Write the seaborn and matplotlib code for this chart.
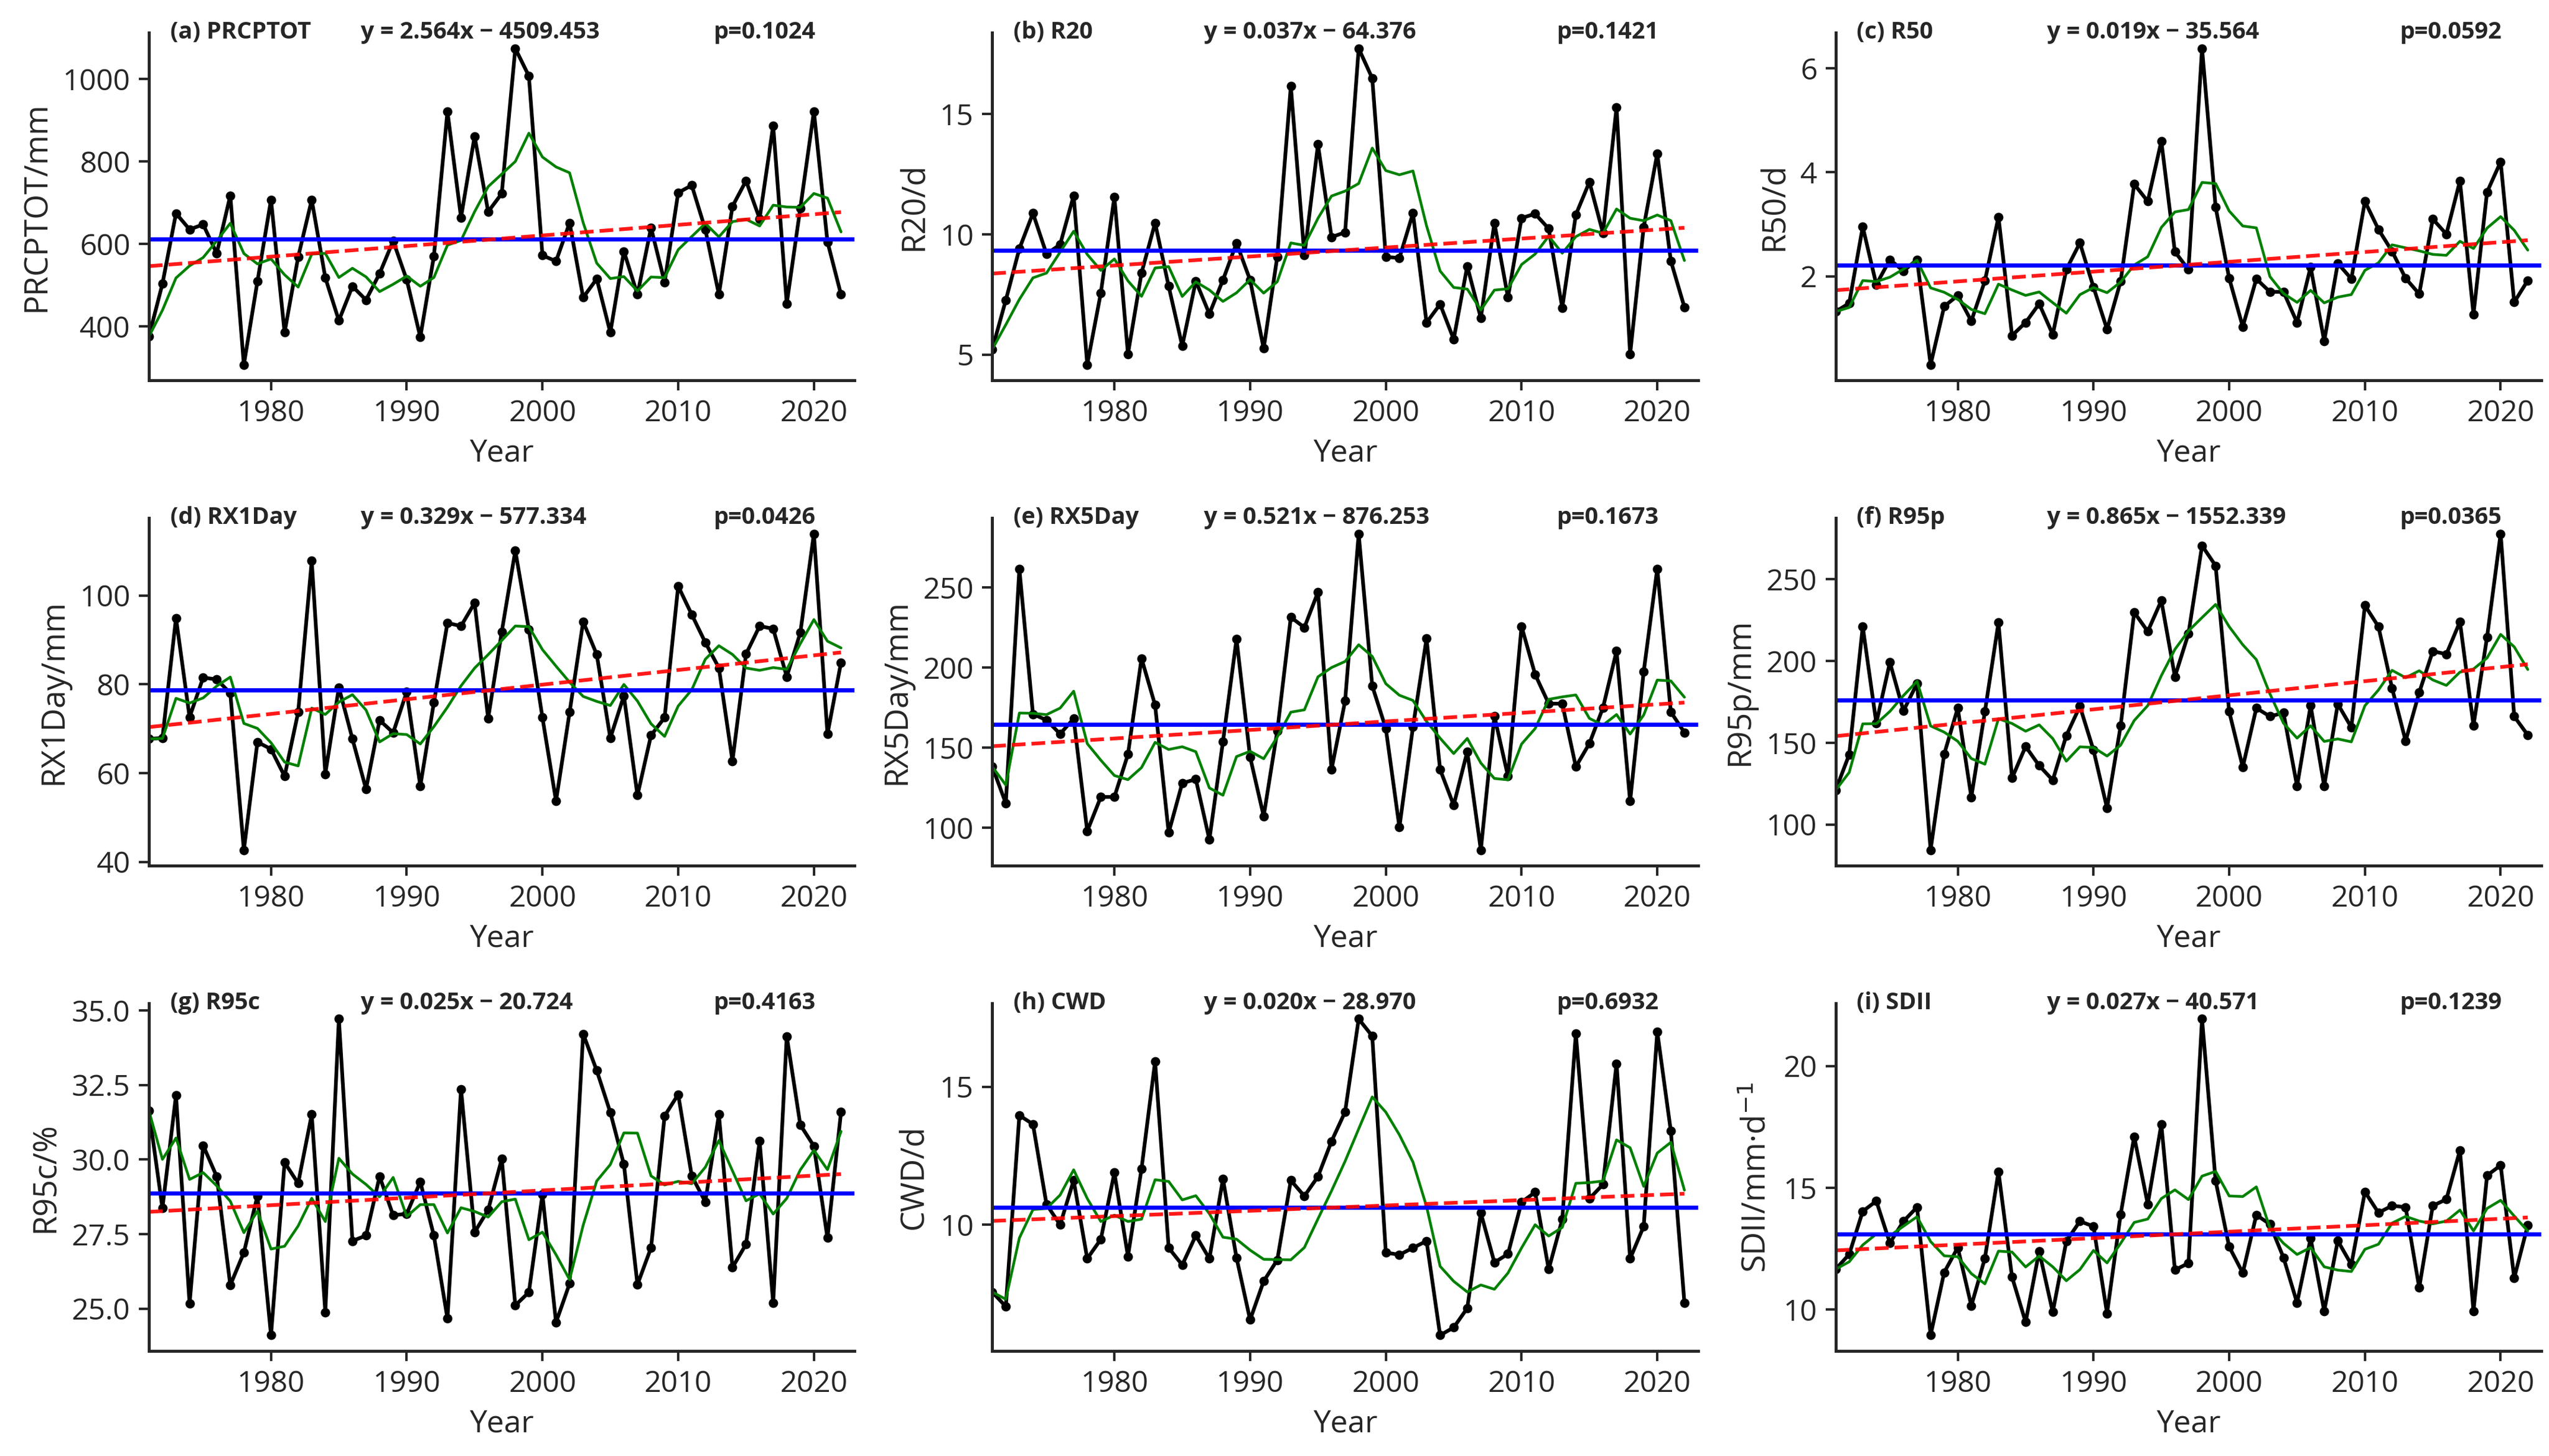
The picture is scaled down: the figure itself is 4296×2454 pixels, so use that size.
import numpy as np
import pandas as pd
import matplotlib
matplotlib.use("Agg")
import matplotlib.pyplot as plt
import seaborn as sns

years = list(range(1971, 2023))

prcptot = [375, 503, 674, 635, 647, 577, 717, 307, 509, 707,
           385, 568, 707, 518, 414, 497, 464, 528, 607, 513,
           374, 570, 921, 664, 861, 678, 722, 1074, 1007, 572,
           558, 651, 470, 515, 385, 582, 477, 639, 507, 724,
           742, 635, 477, 691, 753, 661, 887, 455, 687, 921,
           605, 477]
r20 = [5.22, 7.26, 9.40, 10.87, 9.18, 9.57, 11.60, 4.58, 7.56, 11.55,
       5.02, 8.39, 10.47, 7.84, 5.36, 8.05, 6.69, 8.10, 9.63, 8.10,
       5.25, 9.06, 16.15, 9.12, 13.73, 9.88, 10.08, 17.72, 16.48, 9.06,
       9.01, 10.87, 6.33, 7.09, 5.64, 8.67, 6.52, 10.47, 7.37, 10.67,
       10.85, 10.23, 6.94, 10.81, 12.17, 10.05, 15.27, 5.02, 10.30, 13.35,
       8.89, 6.97]
r50 = [1.32, 1.48, 2.95, 1.84, 2.32, 2.10, 2.32, 0.30, 1.42, 1.63,
       1.14, 1.91, 3.14, 0.86, 1.11, 1.47, 0.88, 2.13, 2.64, 1.79,
       0.98, 1.90, 3.77, 3.44, 4.60, 2.47, 2.13, 6.38, 3.33, 1.96,
       1.03, 1.95, 1.70, 1.70, 1.11, 2.18, 0.75, 2.25, 1.95, 3.44,
       2.90, 2.48, 1.96, 1.66, 3.10, 2.81, 3.83, 1.27, 3.62, 4.20,
       1.50, 1.92]
rx1day = [67.7, 67.9, 94.9, 72.6, 81.5, 81.1, 78.0, 42.7, 67.0, 65.4,
          59.3, 73.7, 107.8, 59.8, 79.3, 67.7, 56.4, 71.9, 69.1, 78.3,
          57.1, 75.9, 93.8, 93.1, 98.3, 72.3, 91.8, 110.1, 92.3, 72.5,
          53.7, 73.7, 94.1, 86.7, 67.9, 77.4, 55.0, 68.5, 72.5, 102.1,
          95.7, 89.4, 83.7, 62.7, 86.8, 93.1, 92.5, 81.7, 91.6, 113.9,
          68.8, 84.9]
rx5day = [138.0, 115.2, 261.4, 170.9, 167.1, 158.5, 168.0, 97.7, 119.1, 119.1,
          145.7, 205.7, 176.5, 96.8, 127.7, 130.2, 92.5, 153.7, 217.7, 144.0,
          107.1, 160.2, 231.4, 225.0, 247.1, 136.2, 179.1, 283.6, 188.5, 161.9,
          100.2, 162.8, 218.0, 136.2, 114.0, 147.4, 86.0, 169.7, 132.0, 225.7,
          195.7, 177.4, 177.4, 138.0, 152.5, 174.8, 210.3, 116.5, 197.4, 261.7,
          172.2, 159.4]
r95p = [120.9, 142.7, 221.0, 162.0, 199.2, 169.5, 186.3, 84.4, 143.0, 171.2,
        116.7, 169.0, 223.5, 128.4, 147.7, 136.0, 127.1, 154.4, 172.3, 145.5,
        110.0, 160.3, 229.8, 218.1, 237.0, 190.4, 216.8, 270.6, 258.3, 169.0,
        135.1, 171.2, 166.1, 168.3, 123.4, 172.8, 123.4, 173.7, 159.4, 234.0,
        221.0, 183.4, 151.1, 180.7, 206.0, 204.2, 224.0, 160.6, 214.7, 277.9,
        166.1, 154.7]
r95c = [31.64, 28.37, 32.15, 25.17, 30.47, 29.43, 25.79, 26.88, 28.78, 24.11,
        29.90, 29.20, 31.51, 24.88, 34.71, 27.27, 27.45, 29.43, 28.13, 28.18,
        29.25, 27.45, 24.67, 32.36, 27.56, 28.31, 30.02, 25.11, 25.55, 28.83,
        24.54, 25.84, 34.21, 32.98, 31.58, 29.84, 25.81, 27.04, 31.46, 32.18,
        29.45, 28.58, 31.51, 26.38, 27.16, 30.62, 25.19, 34.13, 31.16, 30.45,
        27.37, 31.59]
cwd = [7.55, 7.02, 13.96, 13.64, 10.73, 9.99, 11.60, 8.76, 9.46, 11.88,
       8.84, 12.02, 15.92, 9.15, 8.53, 9.60, 8.76, 11.65, 8.79, 6.54,
       7.94, 8.71, 11.60, 11.03, 11.74, 13.02, 14.09, 17.46, 16.84, 8.98,
       8.90, 9.15, 9.40, 5.98, 6.26, 6.96, 10.42, 8.62, 8.93, 10.81,
       11.17, 8.37, 10.19, 16.93, 10.94, 11.45, 15.84, 8.76, 9.93, 16.99,
       13.39, 7.16]
sdii = [11.65, 12.26, 14.03, 14.45, 12.73, 13.62, 14.20, 8.94, 11.52, 12.54,
        10.15, 12.10, 15.66, 11.33, 9.48, 12.39, 9.89, 12.80, 13.62, 13.41,
        9.83, 13.90, 17.10, 14.32, 17.61, 11.62, 11.90, 21.93, 15.28, 12.57,
        11.50, 13.88, 13.50, 12.13, 10.27, 12.92, 9.93, 12.82, 11.84, 14.83,
        13.97, 14.26, 14.20, 10.89, 14.26, 14.52, 16.53, 9.93, 15.50, 15.92,
        11.29, 13.46]

series = [prcptot, r20, r50, rx1day, rx5day, r95p, r95c, cwd, sdii]
titles = ["(a) PRCPTOT", "(b) R20", "(c) R50", "(d) RX1Day", "(e) RX5Day",
          "(f) R95p", "(g) R95c", "(h) CWD", "(i) SDII"]
ylabels = ["PRCPTOT/mm", "R20/d", "R50/d", "RX1Day/mm", "RX5Day/mm",
           "R95p/mm", "R95c/%", "CWD/d", "SDII/mm·d$^{-1}$"]
equations = ["y = 2.564x \u2212 4509.453", "y = 0.037x \u2212 64.376",
             "y = 0.019x \u2212 35.564", "y = 0.329x \u2212 577.334",
             "y = 0.521x \u2212 876.253", "y = 0.865x \u2212 1552.339",
             "y = 0.025x \u2212 20.724", "y = 0.020x \u2212 28.970",
             "y = 0.027x \u2212 40.571"]
pvalues = ["p=0.1024", "p=0.1421", "p=0.0592", "p=0.0426", "p=0.1673",
           "p=0.0365", "p=0.4163", "p=0.6932", "p=0.1239"]
yticks = [[400, 600, 800, 1000], [5, 10, 15], [2, 4, 6], [40, 60, 80, 100],
          [100, 150, 200, 250], [100, 150, 200, 250],
          [25.0, 27.5, 30.0, 32.5, 35.0], [10, 15], [10, 15, 20]]
xticks = [1980, 1990, 2000, 2010, 2020]

sns.set_style("ticks")
plt.rcParams['font.family'] = ['Open Sans', 'DejaVu Sans']
plt.rcParams['axes.linewidth'] = 1.2

fig, axes = plt.subplots(3, 3, figsize=(14.32, 8.18), dpi=300)
fig.subplots_adjust(left=0.0584, right=0.997, top=0.9776, bottom=0.0721,
                    wspace=0.195, hspace=0.395)

for i, ax in enumerate(axes.flat):
    df = pd.DataFrame({'Year': years, 'Value': series[i]})
    # 5-year running mean (trailing window)
    df['MA5'] = df['Value'].rolling(5, min_periods=1).mean()
    slope, intercept = np.polyfit(df['Year'], df['Value'], 1)
    df['Trend'] = slope * df['Year'] + intercept

    sns.lineplot(data=df, x='Year', y='Value', ax=ax, color='black', lw=1.5,
                 marker='o', markersize=3.8, markeredgewidth=0)
    sns.lineplot(data=df, x='Year', y='MA5', ax=ax, color='green', lw=1.1)
    ax.axhline(df['Value'].mean(), color='blue', lw=1.7)
    sns.lineplot(data=df, x='Year', y='Trend', ax=ax, color='red', lw=1.5,
                 linestyle='--', alpha=0.9)

    ax.set_xlim(1971, 2023)
    ax.set_xticks(xticks)
    ax.set_yticks(yticks[i])
    if i == 6:
        ax.set_yticklabels([f"{t:.1f}" for t in yticks[i]])
    ax.tick_params(labelsize=12, width=1.0, length=4)
    ax.set_xlabel("Year", fontsize=12.5)
    ax.set_ylabel(ylabels[i], fontsize=13)

    ax.text(0.03, 1.0, titles[i], transform=ax.transAxes, fontsize=9.5,
            fontweight='bold', va='center', ha='left')
    ax.text(0.30, 1.0, equations[i], transform=ax.transAxes, fontsize=9.5,
            fontweight='bold', va='center', ha='left')
    ax.text(0.80, 1.0, pvalues[i], transform=ax.transAxes, fontsize=9.5,
            fontweight='bold', va='center', ha='left')

sns.despine(fig=fig)
fig.savefig("out.png", dpi=300)
plt.close()
